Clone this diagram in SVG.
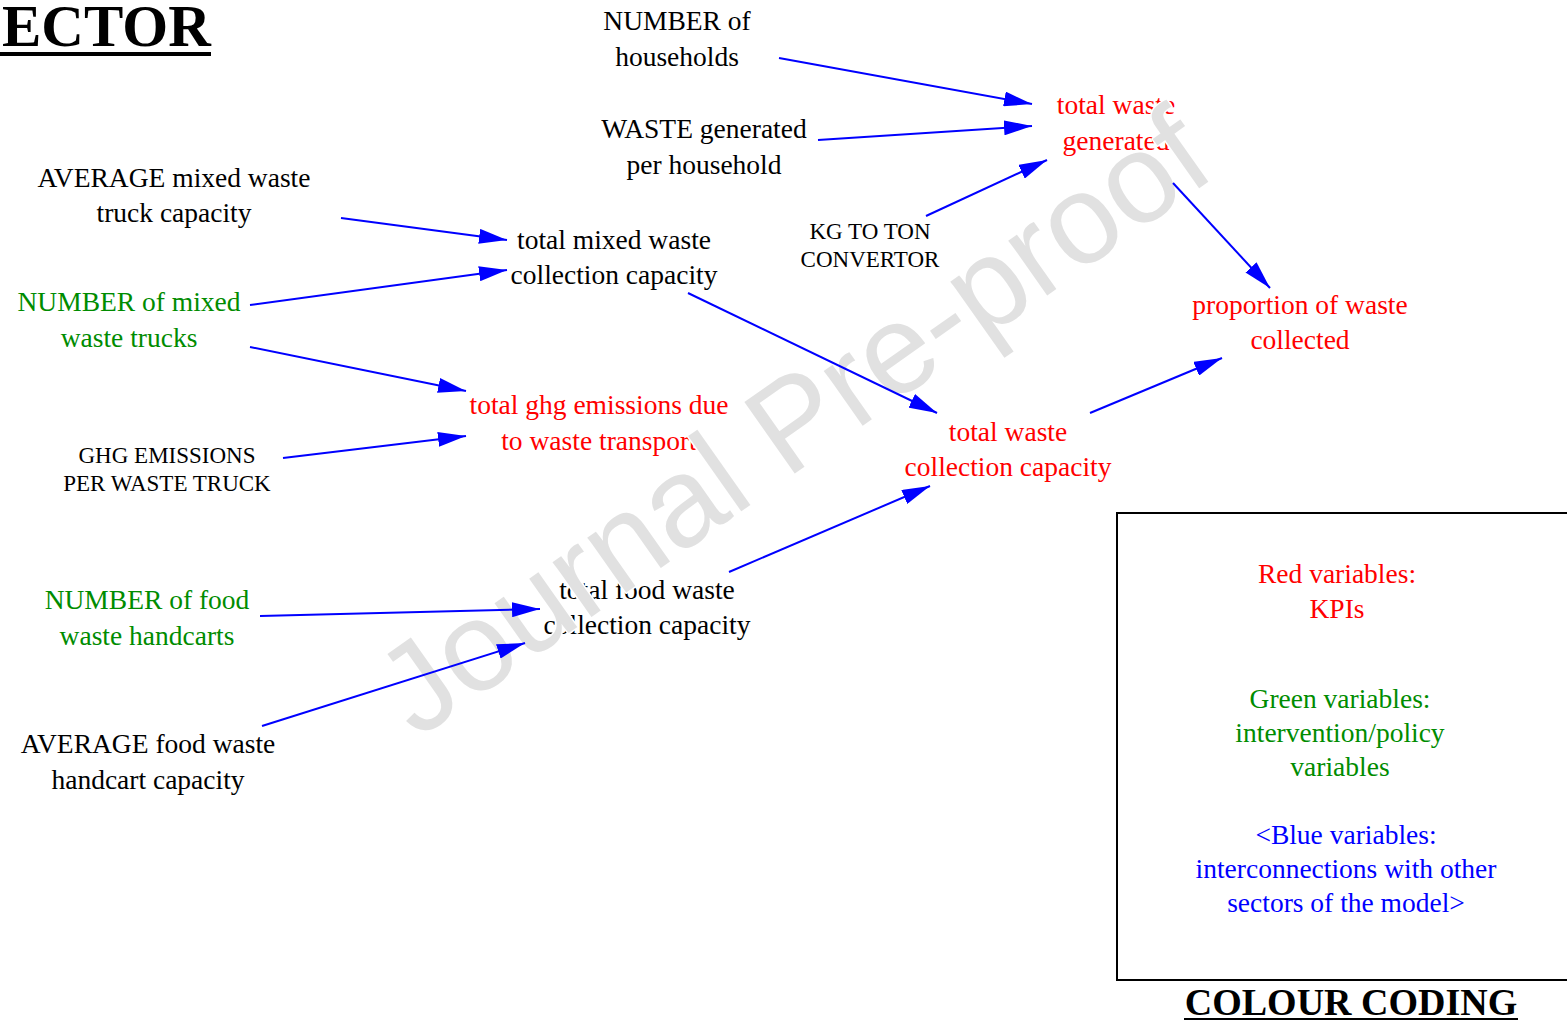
<svg xmlns="http://www.w3.org/2000/svg" width="1567" height="1021" viewBox="0 0 1567 1021">
<style>
text{font-family:"Liberation Serif","Times New Roman",serif;font-size:27.5px;text-anchor:middle}
.k{fill:#000}
.r{fill:#ff0000}
.g{fill:#008c00}
.b{fill:#0000ff}
.s{font-size:23px}
.t{font-weight:bold}
.c line{stroke:#0000ff;stroke-width:2;marker-end:url(#ah)}
.wm{font-family:"Liberation Sans",Arial,sans-serif;font-size:127px;text-anchor:start;fill:#e1e1e1;stroke:#fff;stroke-width:3;paint-order:stroke;stroke-linejoin:round}
</style>
<defs>
<marker id="ah" viewBox="0 0 28 15" refX="28" refY="7.5" markerWidth="28" markerHeight="15" markerUnits="userSpaceOnUse" orient="auto"><path d="M0,0 L28,7.5 L0,15 z" fill="#0000ff"/></marker>
</defs>
<rect width="1567" height="1021" fill="#fff"/>
<g id="title"><text class="k t" x="2" y="46" style="text-anchor:start;font-size:59px">ECTOR</text><rect x="0" y="52" width="211" height="4" fill="#000"/></g>
<g id="n_households"><text class="k" x="677" y="30">NUMBER of</text><text class="k" x="677" y="66">households</text></g>
<g id="n_waste_per_household"><text class="k" x="704" y="138">WASTE generated</text><text class="k" x="704" y="174">per household</text></g>
<g id="n_avg_truck"><text class="k" x="174" y="187">AVERAGE mixed waste</text><text class="k" x="174" y="222">truck capacity</text></g>
<g id="n_total_mixed"><text class="k" x="614" y="249">total mixed waste</text><text class="k" x="614" y="284">collection capacity</text></g>
<g id="n_kg_ton"><text class="k s" x="870" y="239">KG TO TON</text><text class="k s" x="870" y="267">CONVERTOR</text></g>
<g id="n_total_generated"><text class="r" x="1116" y="114">total waste</text><text class="r" x="1116" y="150">generated</text></g>
<g id="n_proportion"><text class="r" x="1300" y="314">proportion of waste</text><text class="r" x="1300" y="349">collected</text></g>
<g id="n_num_trucks"><text class="g" x="129" y="311">NUMBER of mixed</text><text class="g" x="129" y="347">waste trucks</text></g>
<g id="n_ghg_total"><text class="r" x="599" y="414">total ghg emissions due</text><text class="r" x="599" y="450">to waste transport</text></g>
<g id="n_ghg_truck"><text class="k s" x="167" y="463">GHG EMISSIONS</text><text class="k s" x="167" y="491">PER WASTE TRUCK</text></g>
<g id="n_total_collection"><text class="r" x="1008" y="441">total waste</text><text class="r" x="1008" y="476">collection capacity</text></g>
<g id="n_num_handcarts"><text class="g" x="147" y="609">NUMBER of food</text><text class="g" x="147" y="645">waste handcarts</text></g>
<g id="n_total_food"><text class="k" x="647" y="599">total food waste</text><text class="k" x="647" y="634">collection capacity</text></g>
<g id="n_avg_handcart"><text class="k" x="148" y="753">AVERAGE food waste</text><text class="k" x="148" y="789">handcart capacity</text></g>
<g id="legend">
<rect x="1117" y="513" width="460" height="467" fill="none" stroke="#000" stroke-width="2"/>
<text class="r" x="1337" y="583">Red variables:</text><text class="r" x="1337" y="618">KPIs</text>
<text class="g" x="1340" y="708">Green variables:</text><text class="g" x="1340" y="742">intervention/policy</text><text class="g" x="1340" y="776">variables</text>
<text class="b" x="1346" y="844">&lt;Blue variables:</text><text class="b" x="1346" y="878">interconnections with other</text><text class="b" x="1346" y="912">sectors of the model&gt;</text>
<text class="k t" x="1351" y="1015" style="font-size:38px">COLOUR CODING</text><rect x="1184" y="1018" width="334" height="2" fill="#000"/>
</g>
<g id="watermark"><text class="wm" x="417" y="740" transform="rotate(-35.2 417 740)">Journal Pre-proof</text></g>
<g class="c" id="connectors">
<line x1="779" y1="58" x2="1032" y2="104"/>
<line x1="818" y1="140" x2="1032" y2="126"/>
<line x1="926" y1="216" x2="1047" y2="160"/>
<line x1="1173" y1="183" x2="1270" y2="288"/>
<line x1="341" y1="218" x2="507" y2="240"/>
<line x1="250" y1="305" x2="507" y2="270"/>
<line x1="250" y1="347" x2="466" y2="391"/>
<line x1="283" y1="458" x2="466" y2="436"/>
<line x1="688" y1="293" x2="937" y2="413"/>
<line x1="729" y1="572" x2="930" y2="486"/>
<line x1="1090" y1="413" x2="1222" y2="358"/>
<line x1="260" y1="616" x2="540" y2="609"/>
<line x1="262" y1="726" x2="525" y2="643"/>
</g>
</svg>
